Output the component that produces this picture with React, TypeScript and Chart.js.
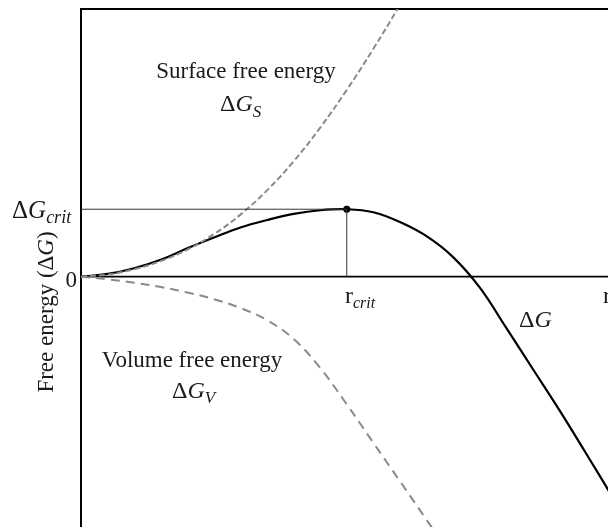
import { useEffect, useRef } from "react";
import { Chart, registerables } from "chart.js";

Chart.register(...registerables);

// Critical nucleus (units: r_crit = 1, ΔG_crit = 1)
const R_CRIT = 1;
const G_CRIT = 1;

// Axis ranges (the frame continues beyond the visible window)
const X_MIN = 0;
const X_MAX = 2.25;
const Y_MIN = -4.5;
const Y_MAX = 3.97;

// Radius samples (step 0.1 r_crit)
const dgR = [0, 0.1, 0.2, 0.3, 0.4, 0.5, 0.6, 0.7, 0.8, 0.9, 1.0, 1.1, 1.2, 1.3, 1.4, 1.5, 1.6, 1.7, 1.8, 1.9, 2.0, 2.1, 2.2];
// Total free energy ΔG
const dgG = [0, 0.04, 0.125, 0.25, 0.42, 0.58, 0.73, 0.84, 0.93, 0.985, 1.0, 0.955, 0.81, 0.6, 0.29, -0.16, -0.76, -1.37, -1.98, -2.62, -3.27, -3.93, -4.6];

// Surface free energy ΔG_S
const surfR = [0, 0.1, 0.2, 0.3, 0.4, 0.5, 0.6, 0.7, 0.8, 0.9, 1.0, 1.1, 1.2, 1.3];
const surfG = [0, 0.03, 0.11, 0.23, 0.4, 0.63, 0.92, 1.28, 1.71, 2.21, 2.77, 3.38, 4.03, 4.72];

// Volume free energy ΔG_V
const volR = [0, 0.1, 0.2, 0.3, 0.4, 0.5, 0.6, 0.7, 0.8, 0.9, 1.0, 1.1, 1.2, 1.3, 1.4, 1.5];
const volG = [0, -0.04, -0.09, -0.155, -0.235, -0.335, -0.465, -0.645, -0.925, -1.355, -1.895, -2.465, -3.035, -3.605, -4.185, -4.775];

const SERIF = '"Liberation Serif", "Times New Roman", serif';
const TEXT = "#1a1a1a";

type Seg = { t: string; size: number; italic?: boolean; dy?: number };

function fontOf(s: Seg) {
  return `${s.italic ? "italic " : ""}${s.size}px ${SERIF}`;
}

function drawRich(ctx: CanvasRenderingContext2D, segs: Seg[], x: number, y: number, align: "left" | "center" | "right") {
  ctx.textAlign = "left";
  ctx.textBaseline = "alphabetic";
  const widths = segs.map((s) => {
    ctx.font = fontOf(s);
    return ctx.measureText(s.t).width;
  });
  const total = widths.reduce((a, b) => a + b, 0);
  let cx = align === "left" ? x : align === "center" ? x - total / 2 : x - total;
  segs.forEach((s, i) => {
    ctx.font = fontOf(s);
    ctx.fillText(s.t, cx, y + (s.dy || 0));
    cx += widths[i];
  });
}

const toPts = (xs: number[], ys: number[]) => xs.map((x, i) => ({ x, y: ys[i] }));

const framePlugin = {
  id: "frame",
  beforeDatasetsDraw(chart: any) {
    const { ctx, chartArea, scales } = chart;
    const y0 = scales.y.getPixelForValue(0);
    ctx.save();
    ctx.strokeStyle = "#000";
    ctx.lineWidth = 2;
    ctx.beginPath();
    ctx.moveTo(chartArea.left, chartArea.bottom);
    ctx.lineTo(chartArea.left, chartArea.top);
    ctx.lineTo(chartArea.right, chartArea.top);
    ctx.stroke();
    ctx.lineWidth = 1.6;
    ctx.beginPath();
    ctx.moveTo(chartArea.left, y0);
    ctx.lineTo(chartArea.right, y0);
    ctx.stroke();
    ctx.restore();
  },
  afterDraw(chart: any) {
    const { ctx } = chart;
    ctx.save();
    ctx.fillStyle = TEXT;
    drawRich(ctx, [{ t: "Surface free energy", size: 23 }], 246, 78, "center");
    drawRich(ctx, [
      { t: "Δ", size: 24 },
      { t: "G", size: 24, italic: true },
      { t: "S", size: 17, italic: true, dy: 6 },
    ], 220, 111, "left");
    drawRich(ctx, [{ t: "Volume free energy", size: 23 }], 192, 367, "center");
    drawRich(ctx, [
      { t: "Δ", size: 24 },
      { t: "G", size: 24, italic: true },
      { t: "V", size: 17, italic: true, dy: 5 },
    ], 172, 398, "left");
    drawRich(ctx, [
      { t: "Δ", size: 25 },
      { t: "G", size: 25, italic: true },
      { t: "crit", size: 18, italic: true, dy: 5 },
    ], 12, 218, "left");
    drawRich(ctx, [{ t: "0", size: 23 }], 77, 287, "right");
    drawRich(ctx, [
      { t: "r", size: 24 },
      { t: "crit", size: 16, italic: true, dy: 5 },
    ], 345, 303, "left");
    drawRich(ctx, [
      { t: "Δ", size: 24 },
      { t: "G", size: 24, italic: true },
    ], 519, 327, "left");
    drawRich(ctx, [{ t: "r", size: 24 }], 603, 303, "left");
    // y-axis title
    ctx.translate(53, 312);
    ctx.rotate(-Math.PI / 2);
    drawRich(ctx, [
      { t: "Free energy (Δ", size: 23 },
      { t: "G", size: 23, italic: true },
      { t: ")", size: 23 },
    ], 0, 0, "center");
    ctx.restore();
  },
};

export default function App() {
  const ref = useRef<HTMLCanvasElement | null>(null);

  useEffect(() => {
    if (!ref.current) return;
    const chart = new Chart(ref.current, {
      type: "scatter",
      data: {
        datasets: [
          {
            label: "crit-h",
            data: [{ x: 0, y: G_CRIT }, { x: R_CRIT, y: G_CRIT }],
            showLine: true,
            borderColor: "#333",
            borderWidth: 1,
            pointRadius: 0,
          },
          {
            label: "crit-v",
            data: [{ x: R_CRIT, y: 0 }, { x: R_CRIT, y: G_CRIT }],
            showLine: true,
            borderColor: "#333",
            borderWidth: 1,
            pointRadius: 0,
          },
          {
            label: "Surface",
            data: toPts(surfR, surfG),
            showLine: true,
            borderColor: "#8a8a8a",
            borderWidth: 2,
            borderDash: [6, 3],
            pointRadius: 0,
            tension: 0.4,
          },
          {
            label: "Volume",
            data: toPts(volR, volG),
            showLine: true,
            borderColor: "#8a8a8a",
            borderWidth: 2,
            borderDash: [9, 6],
            pointRadius: 0,
            tension: 0.4,
          },
          {
            label: "ΔG",
            data: toPts(dgR, dgG),
            showLine: true,
            borderColor: "#000",
            borderWidth: 2.2,
            pointRadius: 0,
            tension: 0.4,
          },
          {
            label: "max",
            data: [{ x: R_CRIT, y: G_CRIT }],
            showLine: false,
            backgroundColor: "#000",
            borderColor: "#000",
            pointRadius: 3.2,
          },
        ],
      },
      options: {
        animation: false,
        responsive: false,
        devicePixelRatio: 1,
        layout: { padding: { left: 81, top: 9, right: 0, bottom: 0 } },
        scales: {
          x: { type: "linear", min: X_MIN, max: X_MAX, display: false },
          y: { type: "linear", min: Y_MIN, max: Y_MAX, display: false },
        },
        plugins: {
          legend: { display: false },
          tooltip: { enabled: false },
        },
      },
      plugins: [framePlugin],
    } as any);
    return () => chart.destroy();
  }, []);

  return (
    <div
      style={{
        position: "fixed",
        left: 0,
        top: 0,
        width: 608,
        height: 527,
        overflow: "hidden",
        background: "#fff",
      }}
    >
      <canvas ref={ref} width={684} height={585} style={{ display: "block", width: 684, height: 585 }} />
    </div>
  );
}
